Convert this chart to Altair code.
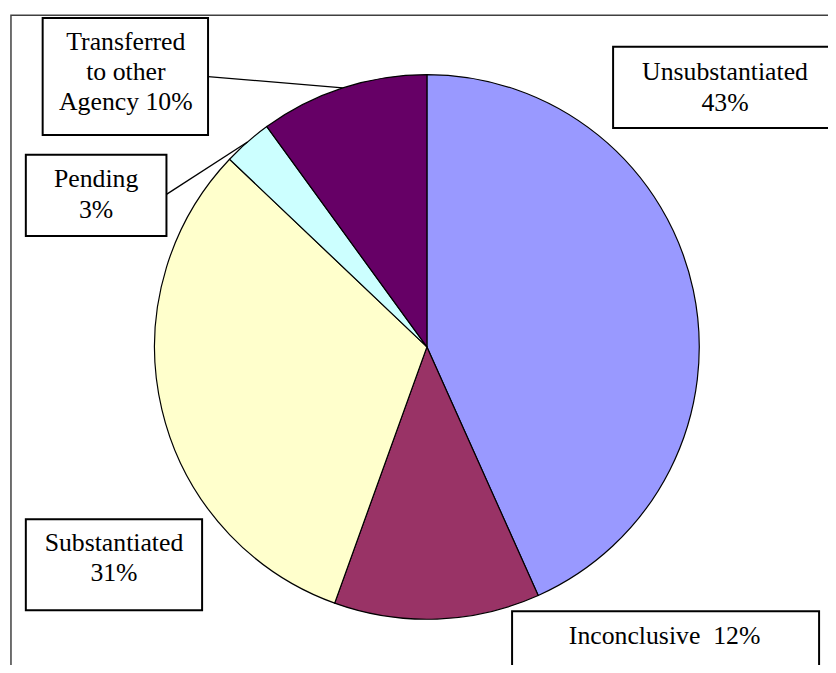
import math
import altair as alt
import pandas as pd

# ---- data ----
categories = ["Unsubstantiated", "Inconclusive", "Substantiated", "Pending", "Transferred to other Agency"]
values = [43.3, 12.2, 31.6, 2.9, 10.0]
label_lines = [["Unsubstantiated", "43%"], ["Inconclusive\u00a0 12%"], ["Substantiated", "31%"], ["Pending", "3%"],
               ["Transferred", "to other", "Agency 10%"]]
colors = ["#9999FF", "#993366", "#FFFFCC", "#CCFFFF", "#660066"]

# ---- layout (page pixels, chart origin is at page (8, 8)) ----
OFF = 8
W, H = 828, 657
CX, CY, R = 431 - OFF, 347 - OFF, 275
LINE_H = 30.5
label_x = [732, 671, 115, 97, 127]
label_y = [78, 647, 553, 186, 47]
boxes = [(619, 44, 850, 126), (517, 614, 827, 671), (26, 521, 204, 613), (26, 153, 168, 235), (43, 15, 210, 133)]
leader_start = {3: (168, 193), 4: (210, 74)}
FONT = "Liberation Serif"

pie_df = pd.DataFrame({"category": categories, "value": values, "idx": list(range(len(values)))})

# leader line ends: middle of each slice's arc
total = sum(values)
cum = 0.0
mids = []
for v in values:
    mids.append((cum + v / 2) / total * 2 * math.pi)
    cum += v
lead_rows = []
for i, (sx, sy) in leader_start.items():
    a = mids[i]
    lead_rows.append({"x": sx - OFF, "y": sy - OFF,
                      "x2": CX + R * math.sin(a), "y2": CY - R * math.cos(a)})
lead_df = pd.DataFrame(lead_rows)

box_df = pd.DataFrame([{"x": b[0] - OFF, "y": b[1] - OFF, "x2": b[2] - OFF, "y2": b[3] - OFF} for b in boxes])

frame = alt.Chart(pd.DataFrame({"a": [0]})).mark_rect(
    fill="transparent", stroke="#404040", strokeWidth=1.5
).encode(x=alt.value(11 - OFF), x2=alt.value(W + 20), y=alt.value(12 - OFF), y2=alt.value(H + 20))

pie = alt.Chart(pie_df).mark_arc(radius=R, stroke="black", strokeWidth=1.2).encode(
    theta=alt.Theta("value:Q", stack=True),
    color=alt.Color("category:N", scale=alt.Scale(domain=categories, range=colors), legend=None),
    order=alt.Order("idx:Q"),
    x=alt.value(CX),
    y=alt.value(CY),
)

leaders = alt.Chart(lead_df).mark_rule(color="black", strokeWidth=1.3).encode(
    x=alt.X("x:Q", scale=None), y=alt.Y("y:Q", scale=None),
    x2="x2:Q", y2="y2:Q",
)

rects = alt.Chart(box_df).mark_rect(fill="white", stroke="black", strokeWidth=2).encode(
    x=alt.X("x:Q", scale=None), y=alt.Y("y:Q", scale=None),
    x2="x2:Q", y2="y2:Q",
)

# one text layer per line, positioned by value like the font test that worked
text_layers = []
for lines, lx, ly in zip(label_lines, label_x, label_y):
    for k, line in enumerate(lines):
        text_layers.append(
            alt.Chart(pd.DataFrame({"t": [line]})).mark_text(
                font=FONT, fontSize=26, align="center", baseline="alphabetic"
            ).encode(x=alt.value(lx - OFF), y=alt.value(ly - OFF + k * LINE_H), text="t:N")
        )

chart = alt.layer(frame, pie, leaders, rects, *text_layers).properties(
    width=W, height=H, autosize=alt.AutoSizeParams(type="none"), padding=0,
    background="white",
).configure(font=FONT).configure_text(font=FONT).configure_view(stroke=None)

chart.save("out.html", embed_options={"renderer": "svg", "actions": False})
